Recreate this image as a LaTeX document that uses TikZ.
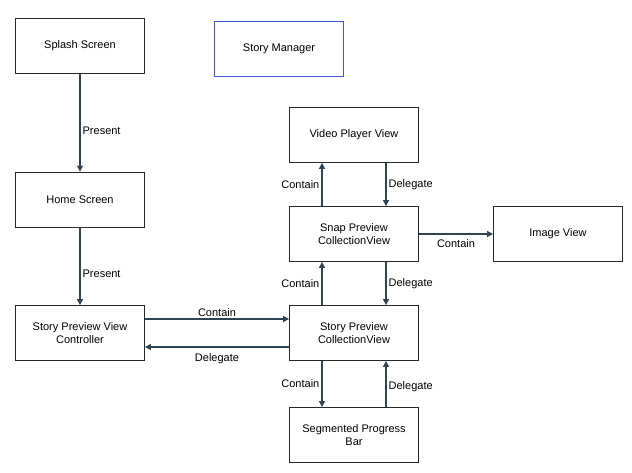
\documentclass[tikz,border=0pt]{standalone}
\usepackage{fontspec}
\setmainfont{Liberation Sans}
\usetikzlibrary{arrows.meta}
\definecolor{linkcol}{RGB}{47,69,84}
\definecolor{boxcol}{RGB}{40,40,40}
\definecolor{mgrcol}{RGB}{58,88,212}
\begin{document}
\begin{tikzpicture}[x=1pt, y=-1pt,
        box/.style={draw=boxcol, line width=0.8pt, minimum width=129pt, minimum height=55pt, align=center, font=\fontsize{11}{13.5}\selectfont},
        link/.style={draw=linkcol, line width=1.3pt, -{Triangle[length=6pt, width=6pt]}},
        lbl/.style={font=\fontsize{11}{13}\selectfont, inner sep=2pt}]
        \useasboundingbox (0,0) rectangle (632,473);

        \node[box] (splash) at (80,46) {Splash Screen};
        \node[box, draw=mgrcol, line width=1.8pt] (manager) at (279,49) {Story Manager};
        \node[box] (home) at (80,199.5) {Home Screen};
        \node[box] (vc) at (80,333) {Story Preview View\\Controller};
        \node[box] (video) at (354,135) {Video Player View};
        \node[box] (snap) at (354,234) {Snap Preview\\CollectionView};
        \node[box] (image) at (558,234) {Image View};
        \node[box] (cv) at (354,333) {Story Preview\\CollectionView};
        \node[box] (bar) at (354,435) {Segmented Progress\\Bar};

        % left column
        \draw[link] (splash) -- node[lbl, right, pos=0.58] {Present} (home);
        \draw[link] (home) -- node[lbl, right, pos=0.6] {Present} (vc);

        % controller and collection view
        \draw[link] ([yshift=14pt]vc.east) -- node[lbl, above] {Contain} ([yshift=14pt]cv.west);
        \draw[link] ([yshift=-14pt]cv.west) -- node[lbl, below, yshift=-4pt] {Delegate} ([yshift=-14pt]vc.east);

        % right column
        \draw[link] ([xshift=-32pt]snap.north) -- node[lbl, left] {Contain} ([xshift=-32pt]video.south);
        \draw[link] ([xshift=32pt]video.south) -- node[lbl, right] {Delegate} ([xshift=32pt]snap.north);
        \draw[link] ([xshift=-32pt]cv.north) -- node[lbl, left] {Contain} ([xshift=-32pt]snap.south);
        \draw[link] ([xshift=32pt]snap.south) -- node[lbl, right] {Delegate} ([xshift=32pt]cv.north);
        \draw[link] ([xshift=-32pt]cv.south) -- node[lbl, left] {Contain} ([xshift=-32pt]bar.north);
        \draw[link] ([xshift=32pt]bar.north) -- node[lbl, right, pos=0.45] {Delegate} ([xshift=32pt]cv.south);
        \draw[link] (snap) -- node[lbl, below, yshift=-3pt] {Contain} (image);
    \end{tikzpicture}
\end{document}
